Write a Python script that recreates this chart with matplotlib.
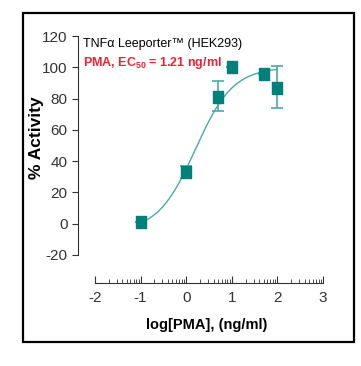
import numpy as np
import matplotlib.pyplot as plt
from matplotlib.patches import Rectangle

# Data
log_dose = np.array([-1.0, 0.0, 0.7, 1.0, 1.7, 2.0])
activity = np.array([1, 33, 81, 100, 96, 87])
err_lo = np.array([0, 4, 9, 0, 0, 13])
err_hi = np.array([0, 4, 10, 0, 0, 14])

# fitted 4PL curve parameters
fit_bottom = -5
fit_top = 100
fit_logec50 = 0.2
fit_hill = 1.05

xticks = [-2, -1, 0, 1, 2, 3]
yticks = [-20, 0, 20, 40, 60, 80, 100, 120]

marker_col = '#00807a'
line_col = '#4aaaa5'
text_col = '#333333'
red_col = '#ee2233'

plt.rcParams['font.family'] = ['Liberation Sans']
plt.rcParams['axes.unicode_minus'] = False
plt.rcParams['mathtext.fontset'] = 'custom'
plt.rcParams['mathtext.rm'] = 'Liberation Sans'
plt.rcParams['mathtext.bf'] = 'Liberation Sans:bold'

fig = plt.figure(figsize=(3.61, 3.66), dpi=100)
fig.patches.append(Rectangle((23 / 361, 1 - 342 / 366), 331 / 361, 329 / 366,
                             transform=fig.transFigure, fill=False,
                             edgecolor='black', linewidth=1.6))

ax = fig.add_axes([78 / 361, 83 / 366, 245 / 361, 247 / 366])

xs = np.linspace(-1, 2, 200)
curve = fit_bottom + (fit_top - fit_bottom) / (1 + 10 ** ((fit_logec50 - xs) * fit_hill))
ax.plot(xs, curve, color=line_col, lw=1)

ax.errorbar(log_dose, activity, yerr=[err_lo, err_hi], fmt='none',
            ecolor=line_col, elinewidth=1.2, capsize=4, capthick=1.2)
rect = [(-0.8, -1), (0.8, -1), (0.8, 1), (-0.8, 1), (-0.8, -1)]
ax.plot(log_dose, activity, ls='none', marker=rect, color=marker_col,
        markersize=9, mec=marker_col)

ax.set_xlim(-2.373, 3)
ax.set_ylim(-37.9, 120)
for s in ['top', 'right']:
    ax.spines[s].set_visible(False)
ax.spines['left'].set_bounds(-20, 120)
ax.spines['bottom'].set_bounds(-2, 3)
ax.spines['left'].set_color(text_col)
ax.spines['bottom'].set_color(text_col)

ax.set_yticks(yticks)
ax.set_xticks(xticks)
minor = [d + np.log10(k) for d in range(-2, 3) for k in range(2, 10)]
ax.set_xticks(minor, minor=True)
ax.tick_params(axis='y', direction='out', length=4, colors=text_col, labelsize=11)
ax.tick_params(axis='x', which='major', direction='in', length=5, colors=text_col,
               labelsize=11, pad=6)
ax.tick_params(axis='x', which='minor', direction='in', length=3, colors=text_col)

fig.text(37 / 361, 1 - 138 / 366, '% Activity', fontsize=12.5, fontweight='bold',
         color='black', rotation=90, ha='center', va='center')
fig.text(207 / 361, 1 - 325 / 366, 'log[PMA], (ng/ml)', fontsize=10.5,
         fontweight='bold', color='black', ha='center', va='center')

fig.text(83 / 361, 1 - 44 / 366, 'TNF\u03b1 Leeporter\u2122 (HEK293)', fontsize=9,
         color='black', va='center')
fig.text(83 / 361, 1 - 63 / 366, 'PMA, EC$_{\\mathbf{50}}$ = 1.21 ng/ml', fontsize=9,
         fontweight='bold', color=red_col, va='center')

plt.savefig('out.png', dpi=100)
